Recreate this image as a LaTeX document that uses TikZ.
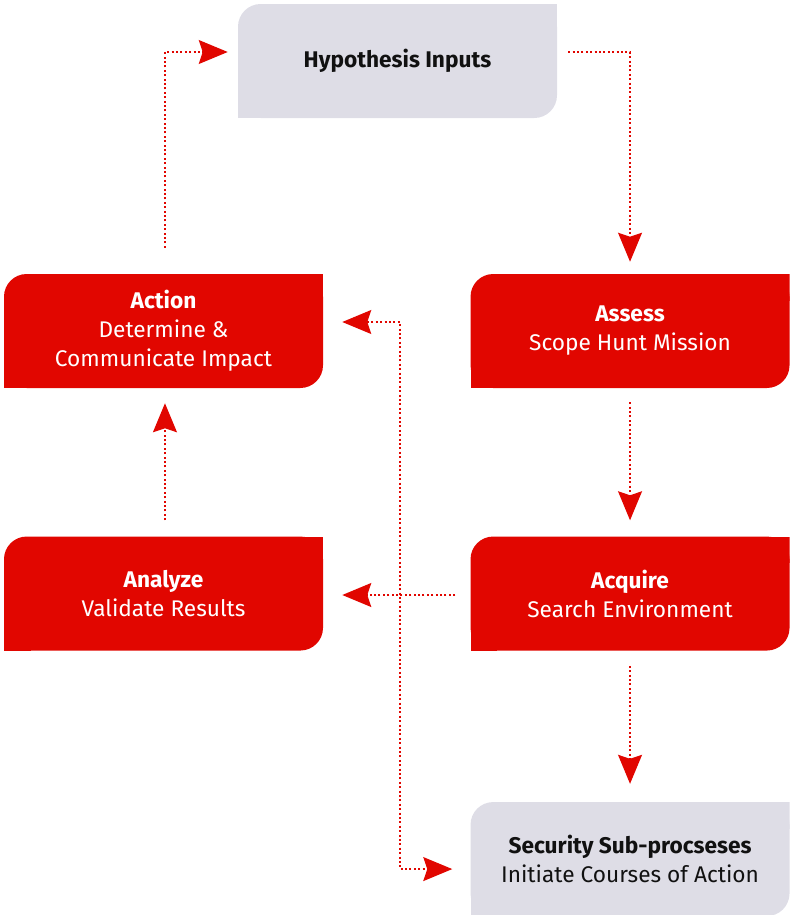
\documentclass[tikz,border=0pt]{standalone}
\usepackage{fontspec}
\setmainfont{Fira Sans}
\usetikzlibrary{positioning,arrows.meta}
\definecolor{brandred}{HTML}{E10600}
\definecolor{panel}{HTML}{DEDDE6}
\definecolor{ink}{HTML}{111111}
\tikzset{
hunt/.style={
    x=0.75pt,
    y=-0.75pt,
    font=\fontsize{17}{21.75}\selectfont
},
redtip/.tip={Stealth[length=21.75pt,width=18pt,inset=3pt]},
box/.style={
    rectangle,
    minimum width=239.25pt,
    minimum height=85.5pt,
    inner sep=0pt,
    align=center,
    path picture={
        \fill[#1, rounded corners=17pt] (path picture bounding box.south west) rectangle (path picture bounding box.north east);
        \fill[#1] (path picture bounding box.south west) rectangle ++(20pt,20pt);
        \fill[#1] (path picture bounding box.north east) rectangle ++(-20pt,-20pt);
    }
},
stage/.style={
    box=brandred,
    text=white
},
input/.style={
    box=panel,
    text=ink
},
flow/.style={
    draw=brandred,
    line width=0.9pt,
    dash pattern=on 1.5pt off 1.8pt,
    -redtip,
    shorten <=11.25pt,
    shorten >=11.25pt
},
flows/.style={
    flow,
    redtip-redtip
}}

\begin{document}
\begin{tikzpicture}[hunt]
\useasboundingbox (0,0) rectangle (790,915);

\node    (hyp)  [input] at (397.5,61)          {\textbf{Hypothesis Inputs}};
\node    (act)  [stage] at (163.5,331)         {\textbf{Action}\\Determine \&\\Communicate Impact};
\node    (ass)  [stage, right=110.25pt of act] {\textbf{Assess}\\Scope Hunt Mission};
\node    (ana)  [stage, below=111pt of act]    {\textbf{Analyze}\\Validate Results};
\node    (acq)  [stage, below=111pt of ass]    {\textbf{Acquire}\\Search Environment};
\node    (sec)  [input, below=113.25pt of acq] {\textbf{Security Sub-procseses}\\Initiate Courses of Action};

\coordinate (bend)  at (400,0);
\coordinate (actin) at ([yshift=6.75pt]act.east);
\coordinate (secin) at ([yshift=-7.5pt]sec.west);

\path    ([xshift=1.1pt]act.north)  edge[flow, shorten <=19.5pt, shorten >=7.5pt, to path={|- (\tikztotarget)}]  ([yshift=6.75pt]hyp.west);
\path    ([yshift=6.75pt]hyp.east)  edge[flow, shorten <=8.25pt, shorten >=9pt, to path={-| (\tikztotarget)}]  (ass.north);
\path    (ass.south)  edge[flow, shorten <=10.5pt, shorten >=12pt]    (acq.north);
\path    (acq.south)  edge[flow, shorten >=13.5pt]                    (sec.north);
\path    ([yshift=-1.1pt]acq.west)  edge[flow, line width=1.1pt, shorten >=14.25pt]  ([yshift=-1.1pt]ana.east);
\path    ([xshift=1.1pt]ana.north)  edge[flow, shorten <=12pt]      ([xshift=1.1pt]act.south);

\draw[flows, shorten <=14.25pt, shorten >=13.5pt] (actin) -- (actin -| bend) -- (secin -| bend) -- (secin);
\end{tikzpicture}
\end{document}
